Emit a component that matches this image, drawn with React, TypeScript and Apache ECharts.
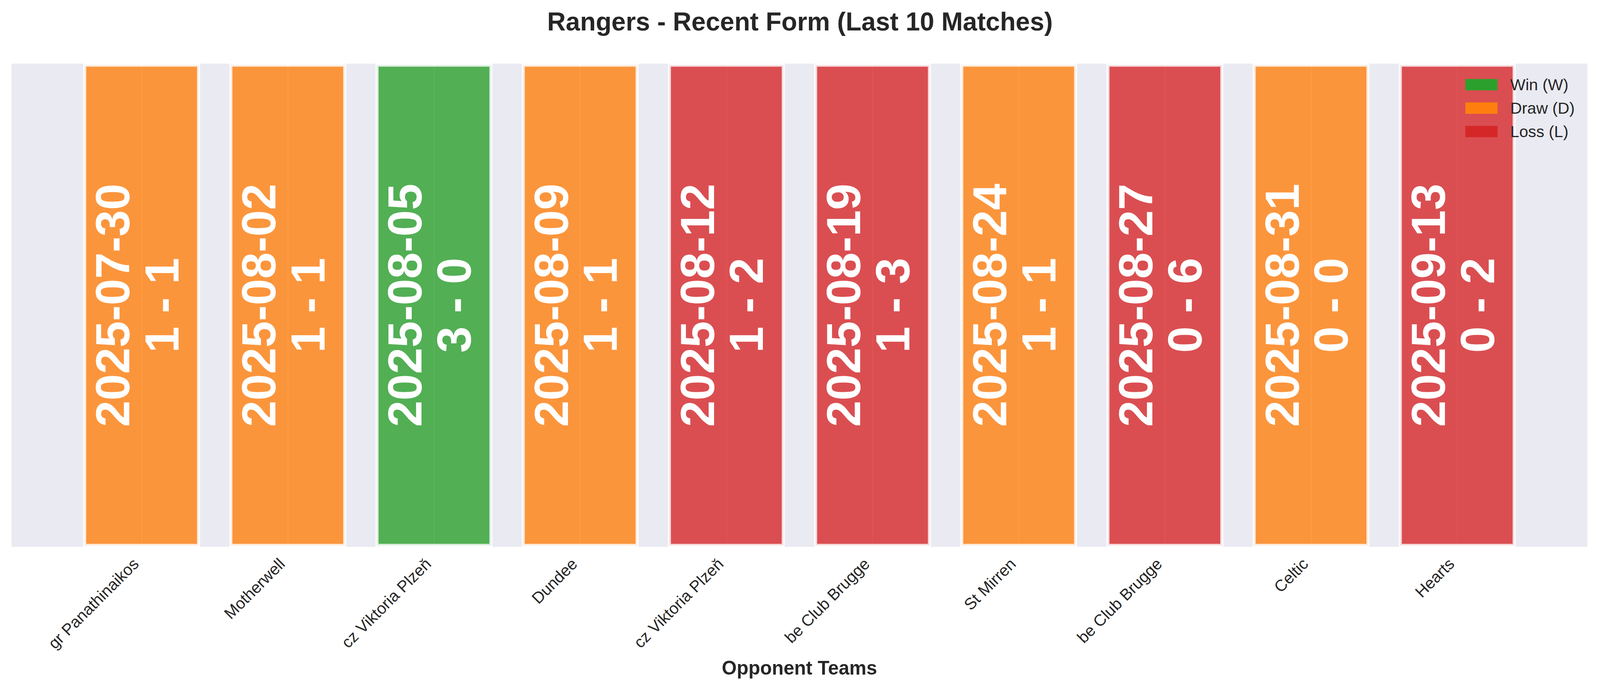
import React, { useEffect, useRef } from "react";
import * as echarts from "echarts";

// ---- data ----
const opponents = [
  "gr Panathinaikos",
  "Motherwell",
  "cz Viktoria Plzeň",
  "Dundee",
  "cz Viktoria Plzeň",
  "be Club Brugge",
  "St Mirren",
  "be Club Brugge",
  "Celtic",
  "Hearts",
];
const matchDates = [
  "2025-07-30",
  "2025-08-02",
  "2025-08-05",
  "2025-08-09",
  "2025-08-12",
  "2025-08-19",
  "2025-08-24",
  "2025-08-27",
  "2025-08-31",
  "2025-09-13",
];
const scores = ["1 - 1", "1 - 1", "3 - 0", "1 - 1", "1 - 2", "1 - 3", "1 - 1", "0 - 6", "0 - 0", "0 - 2"];
const results = ["D", "D", "W", "D", "L", "L", "D", "L", "D", "L"];
const resultKeys = ["W", "D", "L"];
const resultNames: Record<string, string> = { W: "Win (W)", D: "Draw (D)", L: "Loss (L)" };

const COLORS: Record<string, string> = { W: "#2ca02c", D: "#ff7f0e", L: "#d62728" };
// layout is measured on a 4170x1769 figure and scaled to the viewport
const REF_W = 4170;
const REF_H = 1769;
const FONT = "Liberation Sans";
const TEXT = "#262626";
const X_MIN = -0.89;
const X_MAX = 9.89;

const App: React.FC = () => {
  const chartRef = useRef<HTMLDivElement | null>(null);

  useEffect(() => {
    if (!chartRef.current) return;
    const chart = echarts.init(chartRef.current, undefined, { renderer: "svg" });

    const vw = chartRef.current.clientWidth || window.innerWidth;
    const vh = chartRef.current.clientHeight || window.innerHeight;
    const sx = vw / REF_W;
    const sy = vh / REF_H;
    const px = (v: number) => v * sx; // horizontal sizes and fonts
    const py = (v: number) => v * sy; // vertical positions

    const grid = { left: px(30), right: px(33), top: py(163), bottom: py(369) };
    const plotW = vw - grid.left - grid.right;
    const barWidth = (0.8 * plotW) / (X_MAX - X_MIN);
    const idx = opponents.map((_, i) => i);

    const series: any[] = resultKeys.map((r) => ({
      name: resultNames[r],
      type: "bar",
      barWidth,
      barGap: "-100%",
      data: idx.filter((i) => results[i] === r).map((i) => [i, 1]),
      itemStyle: {
        color: COLORS[r],
        opacity: 0.8,
        borderColor: "#ffffff",
        borderWidth: px(8),
      },
      label: {
        show: true,
        position: "inside",
        rotate: 90,
        // offset is in the rotated frame: negative y moves the block left
        offset: [0, -px(11)],
        formatter: (p: any) => `${matchDates[p.value[0]]}\n${scores[p.value[0]]}`,
        color: "#ffffff",
        opacity: 1,
        fontFamily: FONT,
        fontWeight: "bold",
        fontSize: px(124),
        lineHeight: px(128),
        align: "center",
        verticalAlign: "middle",
      },
    }));

    const option: echarts.EChartsOption = {
      animation: false,
      backgroundColor: "#ffffff",
      title: {
        text: "Rangers - Recent Form (Last 10 Matches)",
        left: "center",
        top: py(22),
        padding: 0,
        textStyle: {
          fontFamily: FONT,
          fontSize: px(67),
          fontWeight: "bold",
          color: TEXT,
          lineHeight: px(67),
        },
      },
      legend: {
        orient: "vertical",
        left: px(3819),
        top: py(196),
        icon: "rect",
        itemWidth: px(84),
        itemHeight: py(29),
        itemGap: py(60) - px(42),
        padding: 0,
        data: resultKeys.map((r) => resultNames[r]),
        itemStyle: { opacity: 1, borderWidth: 0 },
        textStyle: {
          fontFamily: FONT,
          fontSize: px(42),
          lineHeight: px(42),
          color: TEXT,
          padding: [0, 0, 0, px(28)],
        },
      },
      grid: {
        ...grid,
        show: true,
        backgroundColor: "#eaeaf2",
        borderWidth: 0,
        containLabel: false,
      },
      xAxis: {
        type: "value",
        min: X_MIN,
        max: X_MAX,
        name: "Opponent Teams",
        nameLocation: "middle",
        nameGap: py(310),
        nameTextStyle: {
          fontFamily: FONT,
          fontSize: px(50),
          fontWeight: "bold",
          color: TEXT,
          verticalAlign: "middle",
        },
        axisLine: { show: false },
        axisTick: { show: false, customValues: idx },
        splitLine: { show: true, lineStyle: { color: "#ffffff", width: px(4) } },
        axisLabel: {
          customValues: idx,
          rotate: 45,
          margin: py(22),
          padding: [0, px(21), 0, 0],
          fontFamily: FONT,
          fontSize: px(42),
          color: TEXT,
          formatter: (v: number) => opponents[Math.round(v)],
        },
      } as any,
      yAxis: {
        type: "value",
        min: 0,
        max: 1,
        show: false,
        splitLine: { show: false },
      },
      series,
    };

    chart.setOption(option);
    return () => {
      chart.dispose();
    };
  }, []);

  return (
    <div
      ref={chartRef}
      style={{ position: "fixed", left: 0, top: 0, width: "100vw", height: "100vh" }}
    />
  );
};

export default App;
